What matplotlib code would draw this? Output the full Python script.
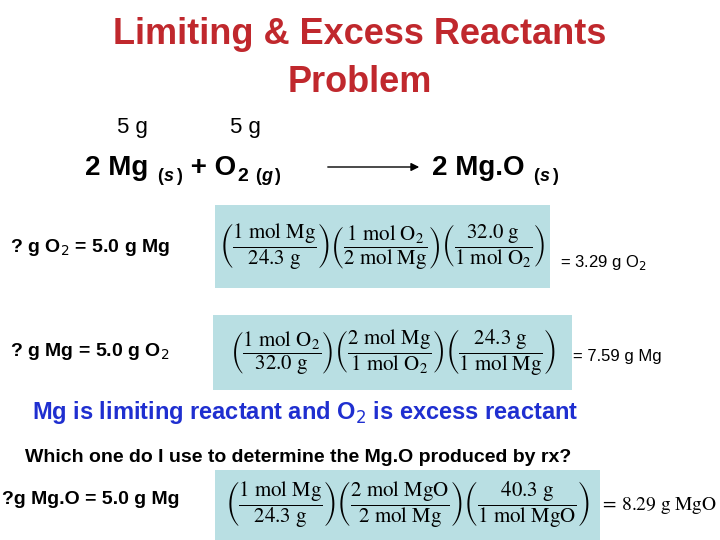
import matplotlib
matplotlib.use("Agg")
import matplotlib.pyplot as plt
from matplotlib.patches import Rectangle, FancyArrowPatch

title_lines = ["Limiting & Excess Reactants", "Problem"]
masses = ["5 g", "5 g"]
rows = [
    ("? g O$_2$ = 5.0 g Mg",
     [("1 mol Mg", "24.3 g"), ("1 mol O_2", "2 mol Mg"), ("32.0 g", "1 mol O_2")],
     "= 3.29 g O$_2$"),
    ("? g Mg = 5.0 g O$_2$",
     [("1 mol O_2", "32.0 g"), ("2 mol Mg", "1 mol O_2"), ("24.3 g", "1 mol Mg")],
     "= 7.59 g Mg"),
    ("?g Mg.O = 5.0 g Mg",
     [("1 mol Mg", "24.3 g"), ("2 mol MgO", "2 mol Mg"), ("40.3 g", "1 mol MgO")],
     "= 8.29 g MgO"),
]
conclusion = "Mg is limiting reactant and O$_2$ is excess reactant"
question = "Which one do I use to determine the Mg.O produced by rx?"

W, H = 720, 540
fig = plt.figure(figsize=(7.2, 5.4), dpi=100)
ax = fig.add_axes([0, 0, 1, 1])
ax.set_xlim(0, W)
ax.set_ylim(H, 0)
ax.axis("off")

red = "#c0282d"
blue = "#1f2fd0"
boxc = "#b9dfe3"
sans = "Liberation Sans"

def mtex(s):
    parts = s.split(" ")
    out = []
    for p in parts:
        if p.endswith("_2"):
            out.append(r"\mathrm{" + p[:-2] + r"}_{2}")
        else:
            out.append(r"\mathrm{" + p + "}")
    return r"\ ".join(out)

def chain(fracs):
    s = ""
    for n, d in fracs:
        s += r"\left(\dfrac{" + mtex(n) + "}{" + mtex(d) + r"}\right)"
    return "$" + s + "$"

ax.text(360, 35, title_lines[0], color=red, fontsize=26, fontweight="bold",
        family=sans, ha="center", va="center")
ax.text(360, 82, title_lines[1], color=red, fontsize=26, fontweight="bold",
        family=sans, ha="center", va="center")
ax.text(132, 128, masses[0], fontsize=16, family=sans, ha="center", va="center")
ax.text(245, 128, masses[1], fontsize=16, family=sans, ha="center", va="center")

# reaction line, pieces placed side by side
def piece(x, y, s, size, style="normal"):
    t = ax.text(x, y, s, fontsize=size, fontweight="bold", family=sans,
                style=style, ha="left", va="baseline")
    fig.canvas.draw()
    bb = t.get_window_extent()
    return x + bb.width + 1

def phase(x, letter):
    x = piece(x, 181, "(", 13)
    x = piece(x, 181, letter, 13, "italic")
    return piece(x + 1, 181, ")", 13)

x = 85
x = piece(x, 175, "2 Mg ", 20)
x = phase(x, "s")
x = piece(x, 175, " + O", 20)
x = piece(x, 181, "2", 14)
x = phase(x + 6, "g")

ax.add_patch(FancyArrowPatch((325, 167), (422, 167), arrowstyle="-|>",
                             mutation_scale=12, color="black", lw=1))
x = piece(432, 175, "2 Mg.O ", 20)
phase(x, "s")

geom = [
    (10, 247, (215, 205, 335, 83), 560, 262),
    (10, 352, (213, 315, 359, 75), 573, 356),
    (2, 500, (215, 470, 385, 70), 600, 505),
]
for (lhs, fracs, rhs), (lx, ly, box, rx, ry) in zip(rows, geom):
    ax.text(lx, ly, lhs, fontsize=14, fontweight="bold", family=sans,
            ha="left", va="center")
    bx, by, bw, bh = box
    ax.add_patch(Rectangle((bx, by), bw, bh, color=boxc, lw=0))
    ax.text(bx + bw / 2, by + bh / 2, chain(fracs), fontsize=15,
            math_fontfamily="stix", ha="center", va="center")
    if rhs.startswith("= 8.29"):
        ax.text(rx, ry, r"$=\,8.29\ \mathrm{g\ MgO}$", fontsize=14,
                math_fontfamily="stix", ha="left", va="center")
    else:
        ax.text(rx, ry, rhs, fontsize=12, family=sans, ha="left", va="center")

ax.text(32, 412, conclusion, color=blue, fontsize=17, fontweight="bold",
        family=sans, ha="left", va="center")
ax.text(25, 458, question, fontsize=14, fontweight="bold", family=sans,
        ha="left", va="center")

fig.savefig("out.png", dpi=100)
